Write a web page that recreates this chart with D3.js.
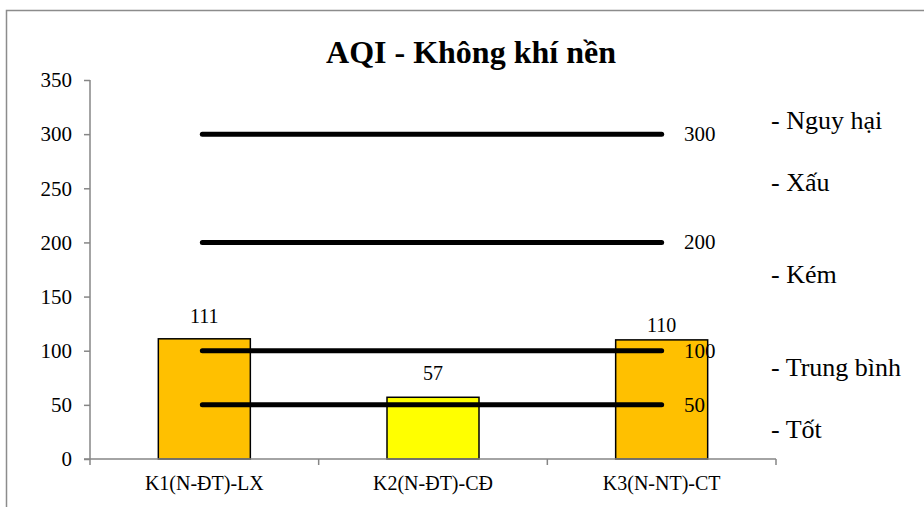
<!DOCTYPE html>
<html>
<head>
<meta charset="utf-8">
<script src="https://cdn.jsdelivr.net/npm/d3@7/dist/d3.min.js"></script>
<style>
  html, body { margin: 0; padding: 0; background: #fff; }
  svg { display: block; }
  text { font-family: "Liberation Serif", "Times New Roman", serif; fill: #000; }
</style>
</head>
<body>
<svg id="chart" width="924" height="507"></svg>
<script>
// Stations and their AQI values
const stations = ["K1(N-ĐT)-LX", "K2(N-ĐT)-CĐ", "K3(N-NT)-CT"];
const aqiValues = [111, 57, 110];
const barColors = ["#FFC000", "#FFFF00", "#FFC000"];

// AQI threshold levels drawn as horizontal reference lines
const thresholds = [300, 200, 100, 50];

// Category names listed at the right
const levelNames = ["- Nguy hại", "- Xấu", "- Kém", "- Trung bình", "- Tốt"];

const yTicks = [0, 50, 100, 150, 200, 250, 300, 350];

const svg = d3.select("#chart");
const plot = { left: 90, right: 776, top: 80, bottom: 459 };
const serif = "'Liberation Serif', 'Times New Roman', serif";

// Outer frame
svg.append("path")
  .attr("d", "M6.5,507 L6.5,10.5 L924,10.5")
  .attr("fill", "none")
  .attr("stroke", "#8c8c8c")
  .attr("stroke-width", 1.5);

const x = d3.scaleBand()
  .domain(stations)
  .range([plot.left, plot.right])
  .padding(0);

const y = d3.scaleLinear()
  .domain([0, 350])
  .range([plot.bottom, plot.top]);

const cx = s => x(s) + x.bandwidth() / 2;

// Title
svg.append("text")
  .attr("x", 471)
  .attr("y", 63)
  .attr("text-anchor", "middle")
  .style("font-size", "32px")
  .style("font-weight", "bold")
  .text("AQI - Không khí nền");

// Bars
const barW = 92;
svg.selectAll("rect.bar")
  .data(aqiValues)
  .join("rect")
  .attr("class", "bar")
  .attr("x", (d, i) => cx(stations[i]) - barW / 2)
  .attr("y", d => y(d))
  .attr("width", barW)
  .attr("height", d => y(0) - y(d))
  .attr("fill", (d, i) => barColors[i])
  .attr("stroke", "#000")
  .attr("stroke-width", 1.5);

// Value labels above bars
const labelGap = [16, 17, 8];
svg.selectAll("text.val")
  .data(aqiValues)
  .join("text")
  .attr("class", "val")
  .attr("x", (d, i) => cx(stations[i]))
  .attr("y", (d, i) => y(d) - labelGap[i])
  .attr("text-anchor", "middle")
  .style("font-size", "20px")
  .text(d => d);

// Threshold lines spanning from first to last station centre
const lx0 = cx(stations[0]) - 2;
const lx1 = cx(stations[stations.length - 1]);
svg.selectAll("line.thr")
  .data(thresholds)
  .join("line")
  .attr("class", "thr")
  .attr("x1", lx0)
  .attr("x2", lx1)
  .attr("y1", d => y(d))
  .attr("y2", d => y(d))
  .attr("stroke", "#000")
  .attr("stroke-width", 5)
  .attr("stroke-linecap", "round");

svg.selectAll("text.thr")
  .data(thresholds)
  .join("text")
  .attr("class", "thr")
  .attr("x", 684)
  .attr("y", d => y(d) + 7)
  .style("font-size", "21px")
  .text(d => d);

// Level names, baseline positions in pixels
const levelY = [129, 191, 283, 376, 438];
svg.selectAll("text.level")
  .data(levelNames)
  .join("text")
  .attr("class", "level")
  .attr("x", 771)
  .attr("y", (d, i) => levelY[i])
  .style("font-size", "26px")
  .text(d => d);

// Y axis
const gy = svg.append("g")
  .attr("transform", `translate(${plot.left},0)`)
  .call(d3.axisLeft(y).tickValues(yTicks).tickSize(6).tickPadding(12));
gy.attr("font-family", serif).attr("font-size", 21);
gy.select(".domain")
  .attr("stroke", "#868686").attr("stroke-width", 1.5)
  .attr("d", `M0,${plot.top}V${plot.bottom}`);
gy.selectAll(".tick line").attr("stroke", "#868686").attr("stroke-width", 1.5);
gy.selectAll(".tick text")
  .style("font-family", serif)
  .style("font-size", "21px")
  .attr("fill", "#000");

// X axis with boundary ticks between categories
const gx = svg.append("g").attr("transform", `translate(0,${plot.bottom})`);
gx.append("line")
  .attr("x1", plot.left - 6)
  .attr("x2", plot.right)
  .attr("stroke", "#868686")
  .attr("stroke-width", 1.5);
const bounds = stations.map(s => x(s)).concat([x(stations[2]) + x.bandwidth()]);
gx.selectAll("line.bt")
  .data(bounds)
  .join("line")
  .attr("class", "bt")
  .attr("x1", d => d).attr("x2", d => d)
  .attr("y1", 0).attr("y2", 6)
  .attr("stroke", "#868686")
  .attr("stroke-width", 1.5);
gx.selectAll("text.cat")
  .data(stations)
  .join("text")
  .attr("class", "cat")
  .attr("x", d => cx(d))
  .attr("y", 31)
  .attr("text-anchor", "middle")
  .style("font-size", "20px")
  .text(d => d);
</script>
</body>
</html>
